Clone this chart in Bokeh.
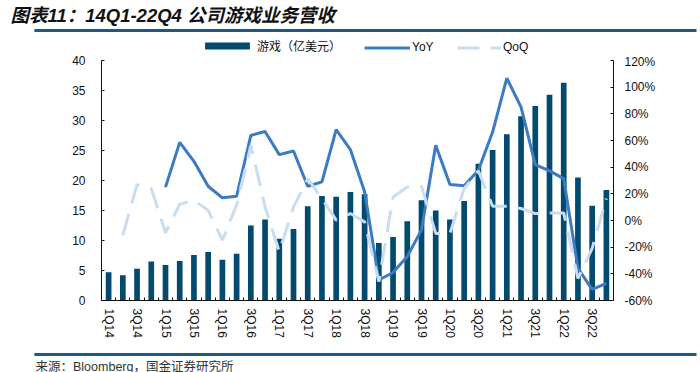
from bokeh.plotting import figure
from bokeh.layouts import column, row
from bokeh.models import (Range1d, LinearAxis, FixedTicker, PrintfTickFormatter,
                          Legend, LegendItem, Label, ColumnDataSource)
from bokeh.embed import file_html
from bokeh.resources import INLINE

quarters = ["1Q14", "2Q14", "3Q14", "4Q14", "1Q15", "2Q15", "3Q15", "4Q15",
            "1Q16", "2Q16", "3Q16", "4Q16", "1Q17", "2Q17", "3Q17", "4Q17",
            "1Q18", "2Q18", "3Q18", "4Q18", "1Q19", "2Q19", "3Q19", "4Q19",
            "1Q20", "2Q20", "3Q20", "4Q20", "1Q21", "2Q21", "3Q21", "4Q21",
            "1Q22", "2Q22", "3Q22", "4Q22"]
revenue = [4.7, 4.2, 5.3, 6.5, 5.9, 6.6, 7.6, 8.1,
           6.8, 7.8, 12.5, 13.5, 10.3, 11.9, 15.7, 17.4,
           17.3, 18.1, 17.7, 9.6, 10.6, 13.2, 16.7, 15.0,
           13.5, 16.6, 22.8, 25.1, 27.7, 30.7, 32.4, 34.3,
           36.3, 20.5, 15.8, 18.4]
# YoY (%) from 1Q15
yoy = [25, 58.6, 44.4, 25.7, 17, 18.2, 63.8, 66.8,
       49.4, 52.1, 25.7, 29, 68.1, 53.2, 21.5, -44.6,
       -39, -27, -7, 56.4, 27, 26, 37.7, 66.3,
       106.7, 85, 41.9, 37.2, 31.4, -35.9, -51.6, -47.1]
# QoQ (%) from 2Q14
qoq = [-11, 26.9, 24, -9.2, 12.2, 15.2, 7.7, -14.7,
       11.5, 56.4, 10.2, -23.4, 10, 31.4, 16.5, 0.3,
       5.2, -1, -45.9, 17.7, 25.2, 25.7, -9.7, -9.7,
       24, 37.2, 10.7, 10.7, 9, 5.2, 5.7, 5.7,
       -43.4, -20.9, 16.5]
left_ticks = [0, 5, 10, 15, 20, 25, 30, 35, 40]
right_ticks = [-60, -40, -20, 0, 20, 40, 60, 80, 100, 120]

title_text = "图表11：14Q1-22Q4 公司游戏业务营收"
source_text = "来源：Bloomberg，国金证券研究所"
legend_labels = ["游戏（亿美元）", "YoY", "QoQ"]

BAR = "#024A6E"
YOY = "#3B7AC4"
QOQ = "#C8DDF1"
RULE = "#1B5A86"
FONT = "Liberation Sans, Noto Sans CJK SC"
W = 700

n = len(quarters)
idx = list(range(n))


def blank_fig(w, h):
    f = figure(width=w, height=h, x_range=Range1d(0, 1), y_range=Range1d(0, 1),
               output_backend="svg", toolbar_location=None,
               min_border_left=0, min_border_right=0, min_border_top=0, min_border_bottom=0)
    f.axis.visible = False
    f.grid.visible = False
    f.outline_line_color = None
    return f


# off-screen placeholder data that only styles legend swatches
dummy = ColumnDataSource(dict(x=[-100], y=[-100]))


def add_legend(fig, label, renderer, x, y, gw, gh=9, lh=12, fs="12px", standoff=2,
               font=FONT):
    lg = Legend(items=[LegendItem(label=label, renderers=[renderer])],
                location=(x, y), orientation="horizontal",
                glyph_width=gw, glyph_height=gh, label_height=lh,
                label_standoff=standoff, padding=0, margin=0, spacing=0,
                border_line_alpha=0, background_fill_alpha=0,
                label_text_font=font, label_text_font_size=fs,
                label_text_color="#111111", label_text_baseline="middle")
    fig.add_layout(lg, "center")


def add_rule(fig, y_center):
    # a 662px x 2px bar in the rule colour, painted as the background of a blank label
    fig.add_layout(Label(x=34, y=y_center, x_units="screen", y_units="screen",
                         text="\u3000" * 331, text_font="Noto Sans CJK SC",
                         text_font_size="2px", text_color=RULE,
                         text_baseline="middle", text_align="left",
                         background_fill_color=RULE, background_fill_alpha=1))
    # second route to the same rule: a long legend swatch
    r = fig.line(x="x", y="y", source=dummy, line_color=RULE, line_width=2)
    add_legend(fig, "\u3000", r, 34, y_center - 1, 662, gh=2, lh=2, fs="1px",
               standoff=0, font="Noto Sans CJK SC")


# ---------- title strip (page y 0..33) ----------
title_fig = blank_fig(W, 33)
title_fig.add_layout(Label(x=10, y=18, x_units="screen", y_units="screen", text=title_text,
                           text_font=FONT, text_font_size="18.5px", text_font_style="bold italic",
                           text_color="#111111", text_baseline="middle", text_align="left"))
add_rule(title_fig, 3)

# ---------- legend strip (page y 33..54) ----------
leg_fig = blank_fig(W, 21)
d_bar = leg_fig.vbar(x="x", top="y", width=1, source=dummy, fill_color=BAR, line_color=None)
d_yoy = leg_fig.line(x="x", y="y", source=dummy, line_color=YOY, line_width=3)
d_qoq = leg_fig.line(x="x", y="y", source=dummy, line_color=QOQ, line_width=3, line_dash="22 11")
add_legend(leg_fig, legend_labels[0], d_bar, 199, 0, 56)
add_legend(leg_fig, legend_labels[1], d_yoy, 364, 0, 46)
add_legend(leg_fig, legend_labels[2], d_qoq, 457, 0, 44)

# ---------- main chart (page y 54..345) ----------
MAIN_TOP = 54
MAIN_H = 291
p = figure(width=W, height=MAIN_H, x_range=Range1d(-0.5, n - 0.5), y_range=Range1d(0, 40),
           output_backend="svg", toolbar_location=None,
           min_border_left=101, min_border_right=W - 613, min_border_top=60 - MAIN_TOP,
           min_border_bottom=MAIN_TOP + MAIN_H - 300)
p.outline_line_color = None
p.xgrid.visible = False
p.ygrid.visible = False
p.extra_y_ranges = {"pct": Range1d(-60, 120)}

bar_src = ColumnDataSource(dict(x=idx, y=revenue))
p.vbar(x="x", top="y", width=0.4, source=bar_src, fill_color=BAR, line_color=None)
yoy_src = ColumnDataSource(dict(x=idx[n - len(yoy):], y=yoy))
p.line(x="x", y="y", source=yoy_src, line_color=YOY, line_width=3, y_range_name="pct")
qoq_src = ColumnDataSource(dict(x=idx[n - len(qoq):], y=qoq))
p.line(x="x", y="y", source=qoq_src, line_color=QOQ, line_width=3,
       line_dash="22 11", y_range_name="pct")

ya = p.yaxis[0]
ya.ticker = FixedTicker(ticks=left_ticks)
ya.major_tick_in = 3
ya.major_tick_out = 0
ya.minor_tick_line_color = None
ya.major_label_standoff = 16
ya.major_label_text_font = FONT
ya.major_label_text_font_size = "12px"
ya.major_label_text_color = "#111111"
ya.axis_line_color = "#111111"
ya.major_tick_line_color = "#111111"

ra = LinearAxis(y_range_name="pct", ticker=FixedTicker(ticks=right_ticks),
                formatter=PrintfTickFormatter(format="%d%%"))
ra.major_tick_in = 3
ra.major_tick_out = 0
ra.minor_tick_line_color = None
ra.major_label_standoff = 11
ra.major_label_text_font = FONT
ra.major_label_text_font_size = "12px"
ra.major_label_text_color = "#111111"
ra.axis_line_color = "#111111"
ra.major_tick_line_color = "#111111"
p.add_layout(ra, "right")

xa = p.xaxis[0]
xa.ticker = FixedTicker(ticks=idx[::2], minor_ticks=[i - 0.5 for i in range(n + 1)])
xa.major_label_overrides = {i: quarters[i] for i in idx[::2]}
xa.major_label_orientation = "vertical"
xa.major_tick_in = 0
xa.major_tick_out = 0
xa.minor_tick_in = 3
xa.minor_tick_out = 0
xa.minor_tick_line_color = "#111111"
xa.major_label_standoff = 8
xa.major_label_text_font = FONT
xa.major_label_text_font_size = "12px"
xa.major_label_text_color = "#111111"
xa.axis_line_color = "#111111"

# ---------- footer strip (page y 345..372) ----------
foot_fig = blank_fig(W, 27)
add_rule(foot_fig, 18)
foot_fig.add_layout(Label(x=35, y=6, x_units="screen", y_units="screen", text=source_text,
                          text_font=FONT, text_font_size="12.5px",
                          text_color="#333333", text_baseline="middle", text_align="left"))

layout = column(row(title_fig), row(leg_fig), p, row(foot_fig), spacing=0)
open("out.html", "w").write(file_html(layout, INLINE))
